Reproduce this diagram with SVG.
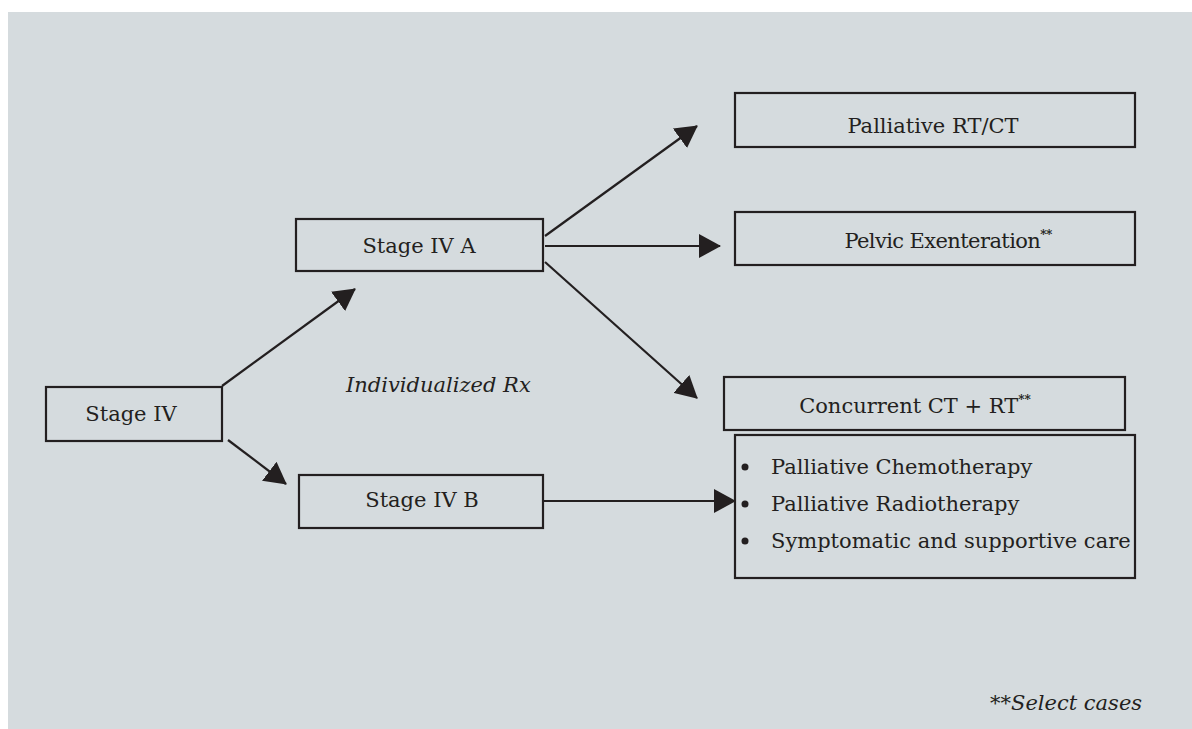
<svg xmlns="http://www.w3.org/2000/svg" width="1192" height="729" viewBox="0 0 1192 729">
<defs>
<style>
.box{fill:none;stroke:#231f20;stroke-width:2.2}
.t{font-family:"DejaVu Serif","Liberation Serif",serif;font-size:21px;fill:#231f20}
.c{text-anchor:middle}
.i{font-style:italic}
.conn line{stroke:#231f20;stroke-width:2.2;marker-end:url(#ah)}
.sup{font-size:12px;font-weight:bold}
</style>
<marker id="ah" viewBox="0 0 22 24" refX="21" refY="12" markerWidth="22" markerHeight="24" markerUnits="userSpaceOnUse" orient="auto">
<path d="M0,0 L22,12 L0,24 z" fill="#231f20"/>
</marker>
</defs>
<rect x="8" y="12" width="1184" height="717" fill="#d5dbde"/>
<g id="connectors" class="conn">
<line x1="222" y1="386" x2="355" y2="289"/>
<line x1="228" y1="440" x2="286" y2="484"/>
<line x1="545" y1="236" x2="697" y2="126"/>
<line x1="545" y1="246" x2="720" y2="246"/>
<line x1="545" y1="262" x2="697" y2="398"/>
<line x1="543" y1="501" x2="735" y2="501"/>
</g>
<g id="stage4">
<rect class="box" x="46" y="387" width="176" height="54"/>
<text class="t c" x="131" y="421">Stage IV</text>
</g>
<g id="stage4a">
<rect class="box" x="296" y="219" width="247" height="52"/>
<text class="t c" x="419" y="253">Stage IV A</text>
</g>
<g id="stage4b">
<rect class="box" x="299" y="475" width="244" height="53"/>
<text class="t c" x="422" y="507">Stage IV B</text>
</g>
<g id="palliative">
<rect class="box" x="735" y="93" width="400" height="54"/>
<text class="t c" x="933" y="133">Palliative RT/CT</text>
</g>
<g id="pelvic">
<rect class="box" x="735" y="212" width="400" height="53"/>
<text class="t c" x="948" y="248" letter-spacing="-0.6">Pelvic Exenteration<tspan class="sup" dy="-9">**</tspan></text>
</g>
<g id="concurrent">
<rect class="box" x="724" y="377" width="401" height="53"/>
<text class="t c" x="915" y="413">Concurrent CT + RT<tspan class="sup" dy="-9">**</tspan></text>
</g>
<g id="palliative-list">
<rect class="box" x="735" y="435" width="400" height="143"/>
<circle cx="745" cy="467" r="3.5" fill="#231f20"/>
<circle cx="745" cy="504" r="3.5" fill="#231f20"/>
<circle cx="745" cy="541" r="3.5" fill="#231f20"/>
<text class="t" x="771" y="474">Palliative Chemotherapy</text>
<text class="t" x="771" y="511">Palliative Radiotherapy</text>
<text class="t" x="771" y="548">Symptomatic and supportive care</text>
</g>
<g id="individualized">
<text class="t i" x="346" y="392">Individualized Rx</text>
</g>
<g id="footnote">
<text class="t i" x="990" y="710">**Select cases</text>
</g>
</svg>
